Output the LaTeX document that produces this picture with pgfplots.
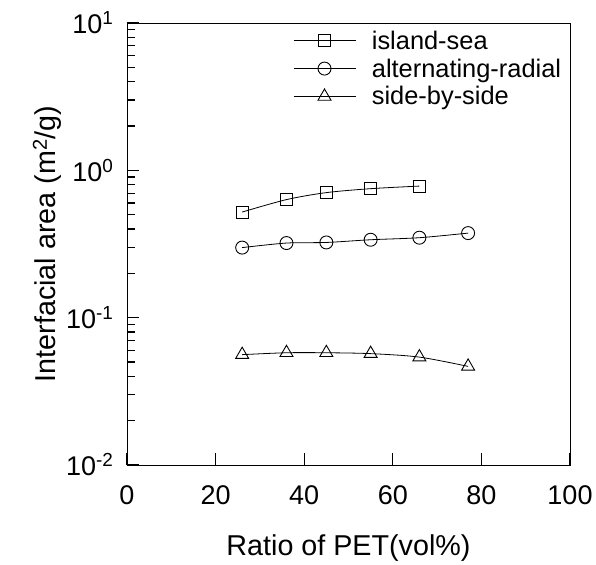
\documentclass[border=0pt]{standalone}
\usepackage{pgfplots}
\pgfplotsset{compat=1.18}
\usepackage{fontspec}
\setmainfont{Liberation Sans}

\begin{document}
\begin{tikzpicture}
\begin{semilogyaxis}[
  scale only axis,
  width=443bp, height=442bp,
  xmin=0, xmax=100,
  ymin=0.01, ymax=10,
  log basis y=10,
  xtick={0,20,40,60,80,100},
  ytick={0.01,0.1,1,10},
  minor ytick={0.02,0.03,0.04,0.05,0.06,0.07,0.08,0.09,
               0.2,0.3,0.4,0.5,0.6,0.7,0.8,0.9,
               2,3,4,5,6,7,8,9},
  yticklabel={10\textsuperscript{\pgfmathprintnumber[fixed,precision=0]{\tick}}},
  tick align=inside,
  tick pos=left,
  major tick length=12bp, minor tick length=8bp,
  /pgf/number format/assume math mode=true,
  tick label style={font=\fontsize{27bp}{32bp}\selectfont},
  xticklabel style={yshift=-17bp},
  yticklabel style={xshift=-10bp},
  axis line style={line width=0.9bp},
  xtick style={line width=1.2bp, black},
  ytick style={line width=1.2bp, black},
  xlabel={Ratio of PET(vol\%)},
  ylabel={Interfacial area (m\textsuperscript{2}/g)},
  label style={font=\fontsize{28.7bp}{34bp}\selectfont},
  xlabel style={at={(axis description cs:0.5,-0.188)}, anchor=center},
  ylabel style={at={(axis description cs:-0.18,0.5)}, anchor=center},
  legend style={draw=none, fill=none, at={(axis description cs:0.37,0.992)}, anchor=north west,
    font=\fontsize{25.4bp}{30bp}\selectfont, row sep=4bp, column sep=14bp, inner sep=2bp},
  legend cell align=left,
  legend image code/.code={\draw[mark repeat=2, mark phase=2] plot coordinates {(0bp,0bp) (31bp,0bp) (62bp,0bp)};},
  every axis plot/.append style={black, line width=0.8bp, smooth, mark options={solid, fill=white, line width=0.9bp}},
]
\addplot[mark=square, mark size=6bp] coordinates {
  (26,0.521) (36,0.633) (45,0.706) (55,0.751) (66,0.782)};
\addlegendentry{island-sea}
\addplot[mark=o, mark size=6.5bp] coordinates {
  (26,0.299) (36,0.321) (45,0.324) (55,0.338) (66,0.349) (77,0.375)};
\addlegendentry{alternating-radial}
\addplot[mark=triangle, mark size=7.5bp] coordinates {
  (26,0.0561) (36,0.0578) (45,0.0578) (55,0.0570) (66,0.0540) (77,0.0467)};
\addlegendentry{side-by-side}
\end{semilogyaxis}
\path (current axis.south west) ++(-127bp,-99bp) rectangle ++(596bp,564bp);
\end{tikzpicture}
\end{document}
